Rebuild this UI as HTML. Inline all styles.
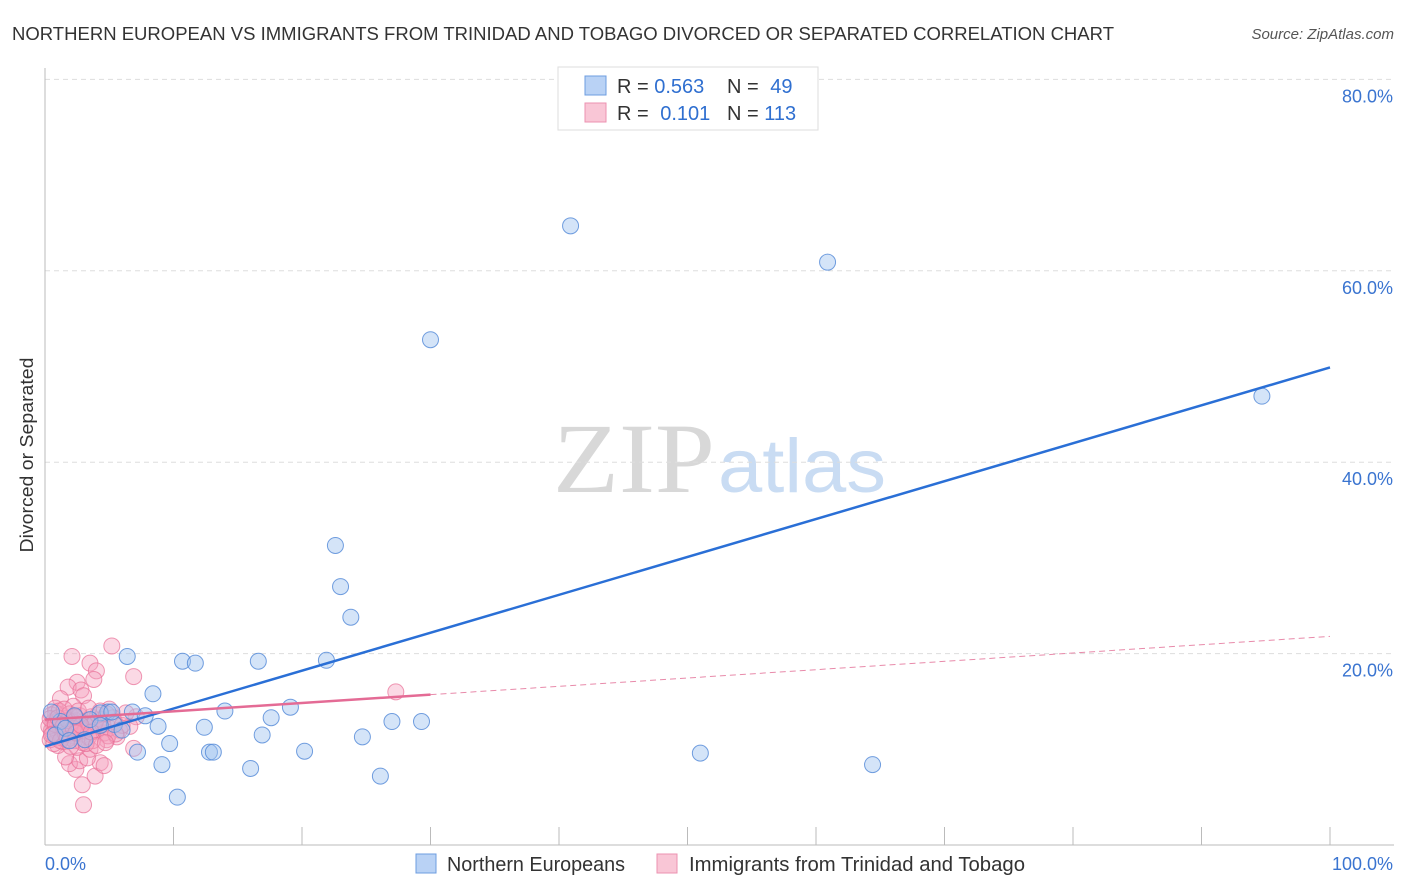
<!DOCTYPE html>
<html><head><meta charset="utf-8">
<style>
body{margin:0;background:#fff;font-family:"Liberation Sans",sans-serif;}
#wrap{position:relative;width:1406px;height:892px;overflow:hidden;}
</style></head>
<body>
<div id="wrap">
<svg id="svg" width="1406" height="892" xmlns="http://www.w3.org/2000/svg">
<text x="12" y="40" font-size="18" fill="#333" textLength="1102" lengthAdjust="spacingAndGlyphs">NORTHERN EUROPEAN VS IMMIGRANTS FROM TRINIDAD AND TOBAGO DIVORCED OR SEPARATED CORRELATION CHART</text>
<text x="1394" y="39" font-size="15" fill="#555" font-style="italic" text-anchor="end">Source: ZipAtlas.com</text>
<text transform="translate(33,455) rotate(-90)" font-size="18" fill="#333" text-anchor="middle" textLength="195" lengthAdjust="spacingAndGlyphs">Divorced or Separated</text>
<g>
<text x="553" y="492" font-size="100" font-family="Liberation Serif,serif" fill="#d8d8d8" textLength="162" lengthAdjust="spacingAndGlyphs">ZIP</text>
<text x="718" y="492" font-size="76" fill="#c9dcf3" textLength="168" lengthAdjust="spacingAndGlyphs">atlas</text>
</g>
<g id="grid"></g><g id="axes"></g><g id="pts"></g><g id="lines"></g>
<g>
<rect x="558" y="67" width="260" height="63" fill="#fff" stroke="#ddd"/>
<rect x="585" y="76" width="21" height="19" fill="#b9d2f5" stroke="#6d9de0"/>
<rect x="585" y="103" width="21" height="19" fill="#f9c6d6" stroke="#ec92b0"/>
<text x="617" y="93" font-size="20" fill="#333">R = <tspan fill="#2f6fd0">0.563</tspan></text>
<text x="727" y="93" font-size="20" fill="#333">N = <tspan fill="#2f6fd0" dx="6">49</tspan></text>
<text x="617" y="120" font-size="20" fill="#333">R = <tspan fill="#2f6fd0" dx="6">0.101</tspan></text>
<text x="727" y="120" font-size="20" fill="#333">N = <tspan fill="#2f6fd0">113</tspan></text>
</g>
<g>
<rect x="416" y="854" width="20" height="19" fill="#b9d2f5" stroke="#6d9de0"/>
<text x="447" y="871" font-size="20" fill="#333" textLength="178" lengthAdjust="spacingAndGlyphs">Northern Europeans</text>
<rect x="657" y="854" width="20" height="19" fill="#f9c6d6" stroke="#ec92b0"/>
<text x="689" y="871" font-size="20" fill="#333" textLength="336" lengthAdjust="spacingAndGlyphs">Immigrants from Trinidad and Tobago</text>
</g>
</svg>
</div>
<script>
const xTicks=[0,10,20,30,40,50,60,70,80,90,100];
const yTicks=[20,40,60,80];
const yTickLabels=["20.0%","40.0%","60.0%","80.0%"];
const blueX=[40.9,60.9,30.0,94.7,22.6,23.0,23.8,6.4,10.7,11.7,16.6,21.9,8.4,19.1,14.0,17.6,27.0,29.3,6.8,7.8,4.9,4.3,5.4,6.0,8.8,12.4,16.9,24.7,9.7,7.2,20.2,12.8,13.1,51.0,9.1,16.0,26.1,64.4,10.3,1.2,2.3,3.5,0.8,1.6,3.1,4.3,0.5,1.9,5.2];
const blueY=[64.7,60.9,52.8,46.9,31.3,27.0,23.8,19.7,19.2,19.0,19.2,19.3,15.8,14.4,14.0,13.3,12.9,12.9,13.9,13.5,13.9,13.8,12.6,12.0,12.4,12.3,11.5,11.3,10.6,9.7,9.8,9.7,9.7,9.6,8.4,8.0,7.2,8.4,5.0,12.9,13.5,13.1,11.5,12.2,11.0,12.5,13.9,10.9,13.9];
const pinkX=[27.3,5.2,2.1,3.5,4.0,3.8,2.5,1.8,2.8,6.9,1.2,3.0,2.2,5.0,4.3,0.8,3.0,2.9,3.9,2.4,1.9,2.7,4.3,4.6,3.3,1.6,3.5,2.5,1.0,6.9,4.8,5.6,2.0,7.1,6.6,0.5,0.7,0.9,1.1,1.3,0.4,0.6,0.8,1.0,1.2,1.4,1.6,1.8,2.0,2.2,2.4,2.6,2.8,3.0,3.2,3.4,3.6,3.8,4.0,4.2,4.4,4.6,5.0,5.4,5.8,0.3,0.5,0.7,0.9,1.1,1.3,1.5,1.7,1.9,2.1,2.3,2.5,2.7,2.9,3.1,3.3,3.5,3.7,3.9,4.1,4.5,4.9,5.3,6.0,0.4,0.6,0.8,1.0,1.2,1.4,1.6,1.8,2.0,2.2,2.4,2.6,2.8,3.2,3.6,4.0,4.8,5.5,0.5,1.5,2.3,3.4,4.7,6.3];
const pinkY=[16.0,20.8,19.7,19.0,18.2,17.3,17.0,16.5,16.2,17.6,15.3,15.6,14.5,14.2,14.0,14.3,4.2,6.3,7.2,7.9,8.5,8.8,8.6,8.3,9.1,9.2,10.0,10.2,10.4,10.1,11.0,11.3,11.2,13.4,12.4,12.0,13.0,11.5,12.5,13.5,11.0,12.8,13.8,11.8,12.2,10.8,13.2,12.0,12.6,11.4,13.0,12.3,11.6,12.9,12.1,11.3,13.4,12.7,11.9,12.4,13.1,11.7,12.2,12.9,12.0,12.4,13.6,10.6,12.9,14.0,11.2,12.7,11.0,13.7,12.9,10.9,12.1,13.5,10.7,11.9,13.0,12.4,10.9,12.8,13.6,12.6,11.4,13.3,12.5,13.2,11.6,12.6,13.3,10.9,12.4,11.6,13.0,10.3,12.2,11.7,14.0,12.5,10.6,11.8,10.4,13.7,11.6,11.5,14.2,13.4,14.3,10.7,13.8];
const blueTrend=[10.3,49.9];
const pinkTrend=[13.1,21.8];
const pinkSolidEnd=30;

const X0=45,X1=1330,Y0=845,PXY=9.57;
const sx=v=>X0+(X1-X0)*v/100;
const sy=v=>Y0-v*PXY;
const NS="http://www.w3.org/2000/svg";
function mk(tag,parent,attrs){const e=document.createElementNS(NS,tag);for(const k in attrs)e.setAttribute(k,attrs[k]);document.getElementById(parent).appendChild(e);return e;}

yTicks.forEach((t,i)=>{
  const g=mk('line','grid',{x1:45,x2:1394,y1:sy(t),y2:sy(t),stroke:'#ddd','stroke-dasharray':'5,4'});
  
  
  const l=mk('text','axes',{x:1393,y:sy(t)+23,'font-size':18,fill:'#3a74d0','text-anchor':'end'});
  l.textContent=yTickLabels[i];
  
  
});
const ax=mk('line','axes',{x1:45,x2:45,y1:68,y2:845,stroke:'#bbb'});


const bx=mk('line','axes',{x1:45,x2:1394,y1:845,y2:845,stroke:'#bbb'});


xTicks.forEach(t=>{
  const k=mk('line','axes',{x1:sx(t),x2:sx(t),y1:827,y2:845,stroke:'#bbb'});
  
  
});
const xl0=mk('text','axes',{x:45,y:870,'font-size':18,fill:'#3a74d0'});xl0.textContent='0.0%';


const xl1=mk('text','axes',{x:1393,y:870,'font-size':18,fill:'#3a74d0','text-anchor':'end'});xl1.textContent='100.0%';



pinkX.forEach((v,i)=>{
  const c=mk('circle','pts',{cx:sx(v),cy:sy(pinkY[i]),r:8,fill:'rgba(244,160,190,0.4)',stroke:'rgba(232,110,150,0.7)','stroke-width':1});
  
  
});
blueX.forEach((v,i)=>{
  const c=mk('circle','pts',{cx:sx(v),cy:sy(blueY[i]),r:8,fill:'rgba(160,195,240,0.45)',stroke:'rgba(80,135,215,0.8)','stroke-width':1});
  
  
});
const bl=mk('line','lines',{x1:sx(0),y1:sy(blueTrend[0]),x2:sx(100),y2:sy(blueTrend[1]),stroke:'#2a6fd6','stroke-width':2.5});


const pm=pinkTrend[0]+(pinkTrend[1]-pinkTrend[0])*pinkSolidEnd/100;
const pl=mk('line','lines',{x1:sx(0),y1:sy(pinkTrend[0]),x2:sx(pinkSolidEnd),y2:sy(pm),stroke:'#e46b95','stroke-width':2.5});


const pd=mk('line','lines',{x1:sx(pinkSolidEnd),y1:sy(pm),x2:sx(100),y2:sy(pinkTrend[1]),stroke:'#e88aaa','stroke-width':1,'stroke-dasharray':'6,4'});


</script>
</body></html>
